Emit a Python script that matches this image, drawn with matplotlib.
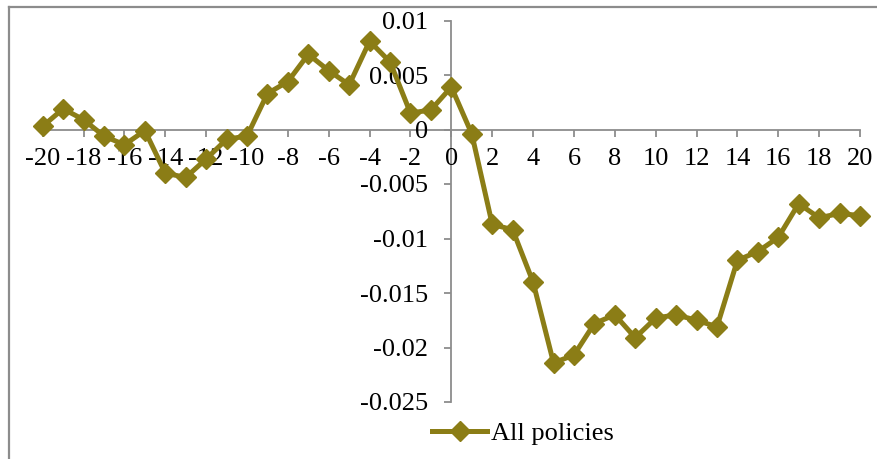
import matplotlib
matplotlib.use("Agg")
import matplotlib.pyplot as plt
from matplotlib.lines import Line2D

# Event-time window and average effect for all policies
event_time = list(range(-20, 21))
all_policies = [
    0.0003, 0.0019, 0.0009, -0.0006, -0.0014, -0.0001, -0.0040, -0.0044,
    -0.0027, -0.0009, -0.0006, 0.0033, 0.0044, 0.0069, 0.0054, 0.0041,
    0.0081, 0.0062, 0.0015, 0.0018, 0.0039,
    -0.0004, -0.0087, -0.0092, -0.0140, -0.0214, -0.0207, -0.0178, -0.0170,
    -0.0191, -0.0173, -0.0170, -0.0175, -0.0181, -0.0120, -0.0112, -0.0099,
    -0.0068, -0.0081, -0.0077, -0.0079,
]
x_ticks = list(range(-20, 21, 2))
y_ticks = [-0.025, -0.02, -0.015, -0.01, -0.005, 0, 0.005, 0.01]
y_tick_labels = ["-0.025", "-0.02", "-0.015", "-0.01", "-0.005", "0", "0.005", "0.01"]
series_name = "All policies"

OLIVE = "#8B7D16"
GREY = "#8C8C8C"
FONT = "Liberation Serif"
FS = 19

plt.rcParams["font.family"] = [FONT, "DejaVu Serif"]

fig = plt.figure(figsize=(8.78, 4.59), dpi=100)
W, H = 878, 459

# Chart frame (top and left edges visible)
fig.add_artist(Line2D([8.5 / W, 1.0], [1 - 6.5 / H] * 2, transform=fig.transFigure,
                      color=GREY, lw=1.6))
fig.add_artist(Line2D([8.5 / W] * 2, [0.0, 1 - 6.5 / H], transform=fig.transFigure,
                      color=GREY, lw=1.6))

left, right = 42.7 / W, 860 / W
bottom, top = (H - 402) / H, (H - 20.5) / H
ax = fig.add_axes([left, bottom, right - left, top - bottom])
ax.set_xlim(-20, 20)
ax.set_ylim(-0.025, 0.01)

ax.plot(event_time, all_policies, color=OLIVE, lw=3.6, marker="D", ms=10.5,
        mec=OLIVE, mfc=OLIVE, solid_joinstyle="miter", clip_on=False, zorder=3)

for side in ("top", "right"):
    ax.spines[side].set_visible(False)
ax.spines["left"].set_position(("data", 0))
ax.spines["bottom"].set_position(("data", 0))
for side in ("left", "bottom"):
    ax.spines[side].set_color(GREY)
    ax.spines[side].set_linewidth(1.3)
    ax.spines[side].set_zorder(1)

ax.set_xticks(x_ticks)
ax.set_xticklabels([str(v) for v in x_ticks], fontsize=FS)
ax.set_yticks(y_ticks)
ax.set_yticklabels(y_tick_labels, fontsize=FS)
ax.tick_params(axis="x", direction="out", length=5, width=1.3, color=GREY, pad=8)
ax.tick_params(axis="y", direction="out", length=5, width=1.3, color=GREY, pad=12)
ax.patch.set_visible(False)

handle = Line2D([], [], color=OLIVE, lw=3.6, marker="D", ms=10.5, mec=OLIVE, mfc=OLIVE)
fig.legend([handle], [series_name], loc="center", bbox_to_anchor=(523 / W, 1 - 433 / H),
           frameon=False, fontsize=FS, handlelength=2.1, handletextpad=0.15,
           borderpad=0, borderaxespad=0)

fig.savefig("out.png", dpi=100)
